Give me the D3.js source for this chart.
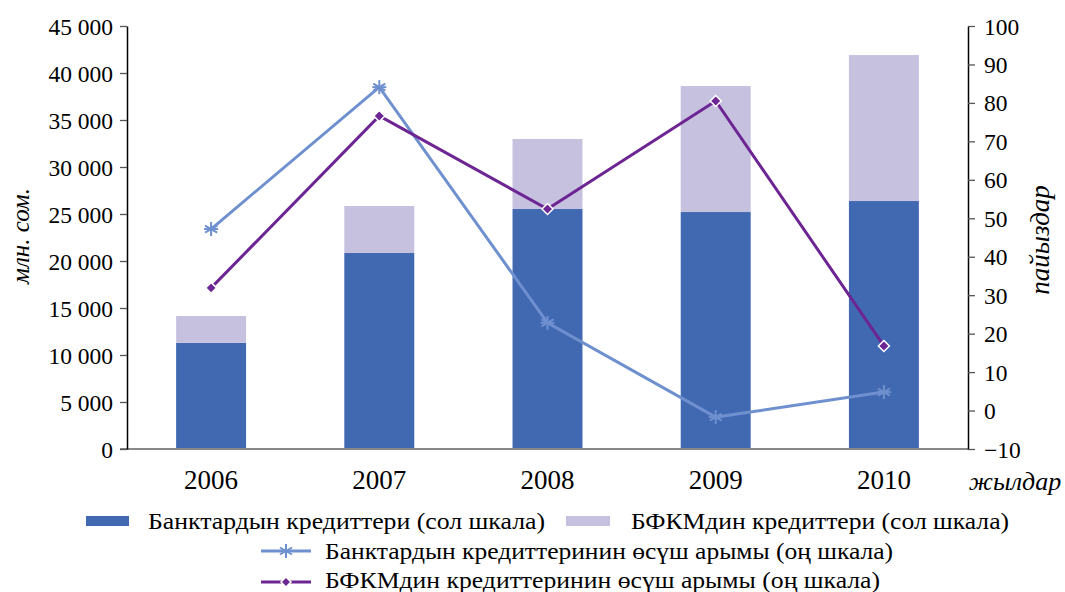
<!DOCTYPE html>
<html><head><meta charset="utf-8">
<script src="https://cdn.jsdelivr.net/npm/d3@7"></script>
<style>body{margin:0;background:#fff}svg{display:block}svg text{font-family:"Liberation Serif",Tinos,"Times New Roman","DejaVu Serif",serif !important;fill:#000}</style>
</head><body><svg id="c" width="1065" height="592"></svg>
<script>
const years = ["2006","2007","2008","2009","2010"];
const bankCredits = [11300, 20850, 25530, 25210, 26380];
const mfiCredits = [2850, 5000, 7450, 13400, 15530];
const bankGrowth = [47.2, 84.1, 22.8, -1.7, 4.8];
const mfiGrowth = [31.9, 76.6, 52.4, 80.5, 16.8];
const leftTicks = [0,5000,10000,15000,20000,25000,30000,35000,40000,45000];
const rightTicks = [-10,0,10,20,30,40,50,60,70,80,90,100];
const legendLabels = ["Банктардын кредиттери (сол шкала)","БФКМдин кредиттери (сол шкала)","Банктардын кредиттеринин өсүш арымы (оң шкала)","БФКМдин кредиттеринин өсүш арымы (оң шкала)"];

const C = {bank:"#4169b2", mfi:"#c6c1df", bankLine:"#6f90cf", mfiLine:"#6c2592"};
const svg = d3.select("#c");
const L=127, R=968, T=26, B=449;
const x = d3.scaleBand().domain(years).range([L,R]).paddingInner(0.584).paddingOuter(0.292);
const yL = d3.scaleLinear().domain([0,45000]).range([B,T]);
const yR = d3.scaleLinear().domain([-10,100]).range([B,T]);
const fmt = v => d3.format(",")(v).replace(/,/g," ");

const g = svg.append("g");
g.selectAll(".b").data(years).join("rect").attr("x",d=>x(d)).attr("width",x.bandwidth())
 .attr("y",(d,i)=>yL(bankCredits[i])).attr("height",(d,i)=>B-yL(bankCredits[i])).attr("fill",C.bank);
g.selectAll(".m").data(years).join("rect").attr("x",d=>x(d)).attr("width",x.bandwidth())
 .attr("y",(d,i)=>yL(bankCredits[i]+mfiCredits[i])).attr("height",(d,i)=>yL(bankCredits[i])-yL(bankCredits[i]+mfiCredits[i])).attr("fill",C.mfi);

svg.append("line").attr("x1",120).attr("x2",R).attr("y1",B).attr("y2",B).attr("stroke","#888").attr("stroke-width",2);

const la = svg.append("g").attr("transform",`translate(${L},0)`)
 .call(d3.axisLeft(yL).tickValues(leftTicks).tickFormat(fmt).tickSize(7).tickSizeOuter(0));
la.attr("font-family",null);
la.select(".domain").attr("stroke","#000").attr("stroke-width",1.5);
la.selectAll(".tick line").attr("stroke","#555").attr("stroke-width",1.3);
la.selectAll(".tick text").attr("font-size",23.5).attr("x",-14).attr("dy","0.34em");

const ra = svg.append("g").attr("transform",`translate(${R},0)`)
 .call(d3.axisRight(yR).tickValues(rightTicks).tickSize(7).tickSizeOuter(0));
ra.attr("font-family",null);
ra.select(".domain").attr("stroke","#000").attr("stroke-width",1.5);
ra.selectAll(".tick line").attr("stroke","#555").attr("stroke-width",1.3);
ra.selectAll(".tick text").attr("font-size",23.5).attr("x",16).attr("dy","0.34em");

const xa = svg.append("g").attr("transform",`translate(0,${B})`).call(d3.axisBottom(x).tickSize(0));
xa.attr("font-family",null);
xa.select(".domain").remove();
xa.selectAll(".tick text").attr("font-size",27).attr("y",21).attr("dy","0.71em");

svg.append("text").attr("transform","translate(29,236) rotate(-90)").attr("text-anchor","middle")
 .attr("font-size",25).attr("font-style","italic").text("млн. сом.");
svg.append("text").attr("transform","translate(1049,240) rotate(-90)").attr("text-anchor","middle")
 .attr("font-size",27).attr("font-style","italic").text("пайыздар");
svg.append("text").attr("x",1015).attr("y",490).attr("text-anchor","middle")
 .attr("font-size",26).attr("font-style","italic").text("жылдар");

const cx = d => x(d)+x.bandwidth()/2;
const line1 = d3.line().x((d,i)=>cx(years[i])).y(d=>yR(d));
svg.append("path").attr("d",line1(bankGrowth)).attr("fill","none").attr("stroke",C.bankLine).attr("stroke-width",3);
svg.append("path").attr("d",line1(mfiGrowth)).attr("fill","none").attr("stroke",C.mfiLine).attr("stroke-width",3);

function star(sel,cxp,cyp,r,col){
  const gg = sel.append("g").attr("transform",`translate(${cxp},${cyp})`);
  [0,60,120].forEach(a=>{const rad=a*Math.PI/180;
    gg.append("line").attr("x1",-r*Math.sin(rad)).attr("y1",-r*Math.cos(rad)).attr("x2",r*Math.sin(rad)).attr("y2",r*Math.cos(rad)).attr("stroke",col).attr("stroke-width",2);});
  gg.append("line").attr("x1",-r).attr("x2",r).attr("y1",0).attr("y2",0).attr("stroke",col).attr("stroke-width",2);
}
function diamond(sel,cxp,cyp,r,col){
  sel.append("path").attr("d",`M${cxp},${cyp-r}L${cxp+r},${cyp}L${cxp},${cyp+r}L${cxp-r},${cyp}Z`).attr("fill",col).attr("stroke","#fff").attr("stroke-width",1.5);
}
years.forEach((yv,i)=>star(svg,cx(yv),yR(bankGrowth[i]),7,C.bankLine));
years.forEach((yv,i)=>diamond(svg,cx(yv),yR(mfiGrowth[i]),5.5,C.mfiLine));

const lfs = 24;
function ltext(xp,yp,s,w){
  svg.append("text").attr("x",xp).attr("y",yp).attr("font-size",lfs).attr("textLength",w).attr("lengthAdjust","spacingAndGlyphs").text(s);
}
svg.append("rect").attr("x",86).attr("y",516).attr("width",43).attr("height",10).attr("fill",C.bank);
ltext(148,529,legendLabels[0],397);
svg.append("rect").attr("x",566).attr("y",516).attr("width",44).attr("height",10).attr("fill",C.mfi);
ltext(631,529,legendLabels[1],378);
svg.append("line").attr("x1",261).attr("x2",311).attr("y1",551).attr("y2",551).attr("stroke",C.bankLine).attr("stroke-width",3);
star(svg,286,551,7,C.bankLine);
ltext(325,559,legendLabels[2],568);
svg.append("line").attr("x1",261).attr("x2",311).attr("y1",582).attr("y2",582).attr("stroke",C.mfiLine).attr("stroke-width",3);
diamond(svg,286,582,5,C.mfiLine);
ltext(325,588,legendLabels[3],555);
</script></body></html>
